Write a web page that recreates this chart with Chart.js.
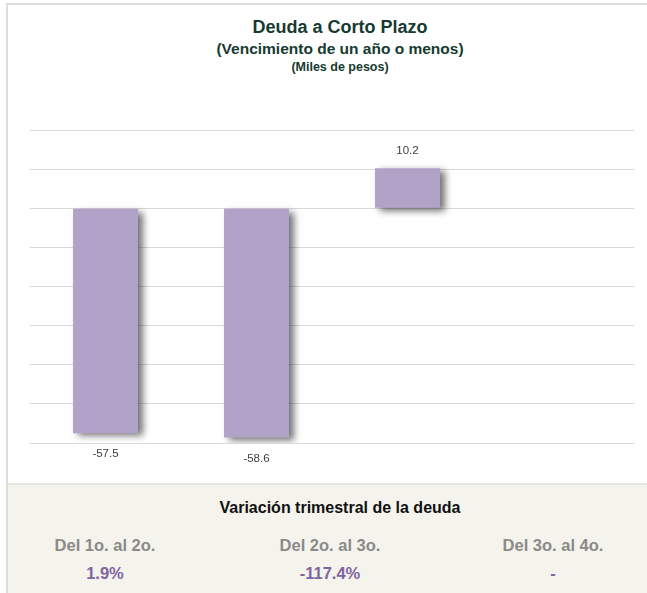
<!DOCTYPE html>
<html>
<head>
<meta charset="utf-8">
<script src="https://cdn.jsdelivr.net/npm/chart.js@4.4.1/dist/chart.umd.min.js"></script>
<style>
  body { margin: 0; background: #fff; font-family: "Liberation Sans", Arial, sans-serif; }
  #card { position: absolute; left: 6px; top: 3px; width: 641px; height: 590px;
          border-left: 2px solid #dedede; border-top: 2px solid #dedede; }
  #titles { position: absolute; left: 0; top: 0; width: 647px; color: #173a30; font-weight: bold; }
  #titles div { position: absolute; left: 0; width: 680px; text-align: center; line-height: 1; }
  #wrap { position: absolute; left: 0; top: 0; width: 647px; height: 483px; }
  #panel { position: absolute; left: 8px; top: 483px; width: 639px; height: 110px;
           background: #f4f3ec; border-top: 2px solid #e6e6e2; box-sizing: border-box; }
  #panel .head { position: absolute; left: 0; width: 664px; top: 14px; text-align: center;
                 font-weight: bold; font-size: 16px; color: #111; }
  .col { position: absolute; width: 220px; text-align: center; font-weight: bold; font-size: 16.5px; }
  .per { color: #8a8a8a; top: 51px; }
  .chg { color: #8064a2; top: 79px; }
</style>
</head>
<body>
<div id="card"></div>
<div id="titles">
  <div style="top:18px;font-size:18px;">Deuda a Corto Plazo</div>
  <div style="top:41px;font-size:15.5px;">(Vencimiento de un año o menos)</div>
  <div style="top:61px;font-size:12.5px;">(Miles de pesos)</div>
</div>
<div id="wrap"><canvas id="myChart"></canvas></div>
<div id="panel"><div class="head">Variación trimestral de la deuda</div></div>
<script>
// quarters (not shown on the axis)
const quarters = ['1er trim', '2o trim', '3er trim', '4o trim'];
const debt = [-57.5, -58.6, 10.2, null];
const yTicks = [-60, -50, -40, -30, -20, -10, 0, 10, 20];

// bottom table
const periods = ['Del 1o. al 2o.', 'Del 2o. al 3o.', 'Del 3o. al 4o.'];
const changes = ['1.9%', '-117.4%', '-'];
const colCenters = [97, 322, 545];

const panel = document.getElementById('panel');
periods.forEach((p, i) => {
    const a = document.createElement('div');
    a.className = 'col per';
    a.style.left = (colCenters[i] - 110) + 'px';
    a.textContent = p;
    panel.appendChild(a);
    const b = document.createElement('div');
    b.className = 'col chg';
    b.style.left = (colCenters[i] - 110) + 'px';
    b.textContent = changes[i];
    panel.appendChild(b);
});

/* shadow under the bars + value labels */
const barExtras = {
    id: 'barExtras',
    beforeDatasetDraw(chart) {
        const ctx = chart.ctx;
        ctx.save();
        ctx.shadowColor = 'rgba(0,0,0,0.55)';
        ctx.shadowBlur = 7;
        ctx.shadowOffsetX = 5;
        ctx.shadowOffsetY = 3;
    },
    afterDatasetDraw(chart) {
        const ctx = chart.ctx;
        ctx.restore();
        const meta = chart.getDatasetMeta(0);
        ctx.save();
        ctx.font = '11.5px "Liberation Sans", Arial';
        ctx.fillStyle = '#404040';
        ctx.textAlign = 'center';
        ctx.textBaseline = 'middle';
        meta.data.forEach((bar, i) => {
            const v = debt[i];
            if (v === null) return;
            const y = v >= 0 ? bar.y - 18 : bar.y + 21;
            ctx.fillText(v.toFixed(1), bar.x, y);
        });
        ctx.restore();
    }
};

var ctx = document.getElementById('myChart').getContext('2d');
var chart = new Chart(ctx, {
    type: 'bar',
    data: {
        labels: quarters,
        datasets: [{
            data: debt,
            backgroundColor: '#b3a2c7',
            borderWidth: 0,
            barPercentage: 0.86,
            categoryPercentage: 0.5
        }]
    },
    options: {
        responsive: true,
        maintainAspectRatio: false,
        animation: false,
        layout: { padding: { left: 30, right: 13, top: 130, bottom: 40 } },
        plugins: {
            legend: { display: false },
            tooltip: { enabled: false }
        },
        scales: {
            x: { display: false },
            y: {
                min: yTicks[0],
                max: yTicks[yTicks.length - 1],
                afterBuildTicks: (axis) => { axis.ticks = yTicks.map(v => ({ value: v })); },
                ticks: { display: false },
                border: { display: false },
                grid: { color: '#d9d9d9', lineWidth: 1, drawTicks: false }
            }
        }
    },
    plugins: [barExtras]
});
</script>
</body>
</html>
